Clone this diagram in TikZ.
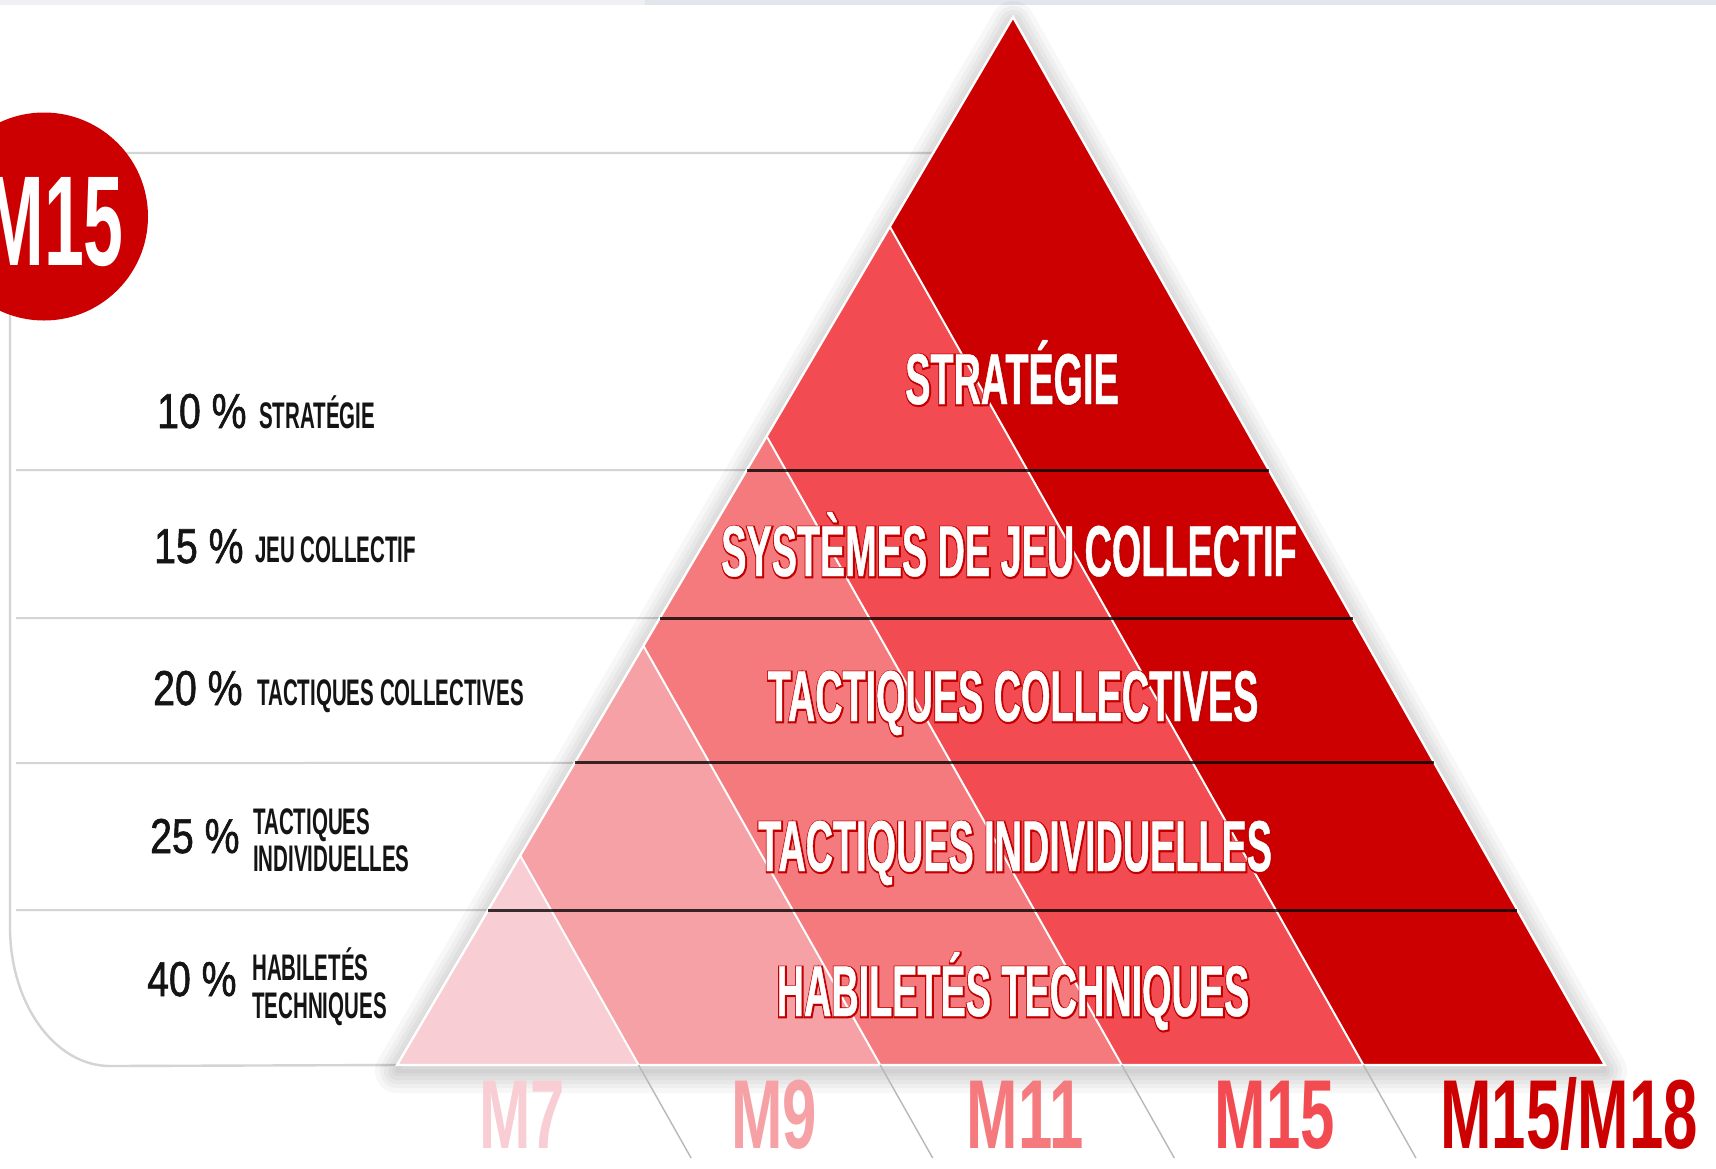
\documentclass[tikz,border=0pt]{standalone}
\usepackage{fontspec}
\usetikzlibrary{calc}
\setmainfont{Liberation Sans}
\newfontfamily\fInner{Liberation Sans}[FakeStretch=0.525, FakeBold=0.6]
\newfontfamily\fInnerOL{Liberation Sans}[FakeStretch=0.525, FakeBold=4.5]
\newfontfamily\fLab{Liberation Sans}[FakeStretch=0.555]
\newfontfamily\fMlab{Liberation Sans}[FakeStretch=0.63]
\newfontfamily\fCirc{Liberation Sans}[FakeStretch=0.56]
\newfontfamily\fPct{Liberation Sans}[FakeStretch=0.8, FakeBold=1.2]
\definecolor{cseven}{HTML}{F8CDD3}
\definecolor{cnine}{HTML}{F5A1A5}
\definecolor{celeven}{HTML}{F47A7E}
\definecolor{cfifteen}{HTML}{F24B51}
\definecolor{ceighteen}{HTML}{CC0000}
\definecolor{olred}{HTML}{C20000}
\definecolor{gridgrey}{HTML}{D4D4D4}
\definecolor{bandA}{HTML}{EEF0F3}
\definecolor{bandB}{HTML}{E2E6EC}
\tikzset{
  gridline/.style={draw=gridgrey, line width=2pt},
  frameline/.style={draw=gridgrey, line width=2.4pt},
  levelline/.style={draw=black, opacity=0.78, line width=3pt},
  sepline/.style={draw=white, line width=2pt},
  extline/.style={draw=black!28, line width=1.4pt},
  pct/.style={inner sep=0pt, anchor=base west, text=black!92,
    font=\fPct\fontsize{49}{49}\selectfont},
  lab/.style={inner sep=0pt, anchor=base west, text=black!92,
    font=\fLab\bfseries\fontsize{37}{37}\selectfont},
  inner/.style={inner sep=0pt, anchor=base, text=white,
    font=\fInner\bfseries\fontsize{72}{72}\selectfont},
  innerol/.style={inner sep=0pt, anchor=base, text=olred,
    font=\fInnerOL\bfseries\fontsize{72}{72}\selectfont},
  mlab/.style={inner sep=0pt, anchor=base,
    font=\fMlab\bfseries\fontsize{98}{98}\selectfont},
}
\begin{document}
\begin{tikzpicture}[x=1pt,y=-1pt]
\useasboundingbox (0,0) rectangle (1716,1168);
\fill[white] (0,0) rectangle (1716,1168);
\fill[bandA] (0,0) rectangle (645,5);
\fill[bandB] (645,0) rectangle (1716,5);

% geometry
\coordinate (A) at (1013,17);
\coordinate (BL) at (397,1065);
\coordinate (BR) at (1605,1065);
\coordinate (P1) at ($(BL)!0.2!(BR)$);
\coordinate (P2) at ($(BL)!0.4!(BR)$);
\coordinate (P3) at ($(BL)!0.6!(BR)$);
\coordinate (P4) at ($(BL)!0.8!(BR)$);
\coordinate (Q1) at ($(BL)!0.2!(A)$);
\coordinate (Q2) at ($(BL)!0.4!(A)$);
\coordinate (Q3) at ($(BL)!0.6!(A)$);
\coordinate (Q4) at ($(BL)!0.8!(A)$);
\coordinate (E1) at ($(P1)+(52.5,93)$);
\coordinate (E2) at ($(P2)+(52.5,93)$);
\coordinate (E3) at ($(P3)+(52.5,93)$);
\coordinate (E4) at ($(P4)+(52.5,93)$);
\coordinate (L1) at ($(BL)!0.5677!(A)$);
\coordinate (R1) at ($(BR)!0.5677!(A)$);
\coordinate (L2) at ($(BL)!0.4265!(A)$);
\coordinate (R2) at ($(BR)!0.4265!(A)$);
\coordinate (L3) at ($(BL)!0.2882!(A)$);
\coordinate (R3) at ($(BR)!0.2882!(A)$);
\coordinate (L4) at ($(BL)!0.1479!(A)$);
\coordinate (R4) at ($(BR)!0.1479!(A)$);
\coordinate (T) at ($(BL)!0.8702!(A)$);
\coordinate (G1) at (16,470);
\coordinate (G2) at (16,618);
\coordinate (G3) at (16,763);
\coordinate (G4) at (16,910);
\coordinate (FTL) at (10,153);
\coordinate (FL) at (10,927);
\coordinate (FB) at (110,1066);

% frame and grid lines
\draw[frameline] (T) -- (FTL) -- (FL) .. controls (10,1004) and (55,1066) .. (FB) -- (BL);
\draw[gridline] (G1) -- (L1);
\draw[gridline] (G2) -- (L2);
\draw[gridline] (G3) -- (L3);
\draw[gridline] (G4) -- (L4);

% shadow
\foreach \w in {44,34,26,18,10,4}
  \draw[line width=\w pt, line join=round, black, opacity=0.032]
    ([yshift=-6pt]A) -- ([yshift=-6pt]BL) -- ([yshift=-6pt]BR) -- cycle;

% stripes
\fill[ceighteen] (A) -- (Q4) -- (P4) -- (BR) -- cycle;
\fill[cfifteen] (Q4) -- (Q3) -- (P3) -- (P4) -- cycle;
\fill[celeven] (Q3) -- (Q2) -- (P2) -- (P3) -- cycle;
\fill[cnine] (Q2) -- (Q1) -- (P1) -- (P2) -- cycle;
\fill[cseven] (Q1) -- (BL) -- (P1) -- cycle;
\draw[sepline] (Q1) -- (P1);
\draw[sepline] (Q2) -- (P2);
\draw[sepline] (Q3) -- (P3);
\draw[sepline] (Q4) -- (P4);
\draw[draw=white, line width=2.4pt, line join=miter] (A) -- (BL) -- (BR) -- cycle;

% level lines
\draw[levelline] (L1) -- (R1);
\draw[levelline] (L2) -- (R2);
\draw[levelline] (L3) -- (R3);
\draw[levelline] (L4) -- (R4);

% extension lines under the base
\draw[extline] (P1) -- (E1);
\draw[extline] (P2) -- (E2);
\draw[extline] (P3) -- (E3);
\draw[extline] (P4) -- (E4);

% inner labels: red outline layer, then white lettering
\node[innerol] (i1o) at (1012.6,404.8) {STRATÉGIE};
\node[innerol] (i2o) at (1009.6,576.8) {SYSTÈMES DE JEU COLLECTIF};
\node[innerol] (i3o) at (1013.6,721.8) {TACTIQUES COLLECTIVES};
\node[innerol] (i4o) at (1015.6,871.8) {TACTIQUES INDIVIDUELLES};
\node[innerol] (i5o) at (1013.6,1016.8) {HABILETÉS TECHNIQUES};
\node[inner] (i1) at (1012,404) {STRATÉGIE};
\node[inner] (i2) at (1009,576) {SYSTÈMES DE JEU COLLECTIF};
\node[inner] (i3) at (1013,721) {TACTIQUES COLLECTIVES};
\node[inner] (i4) at (1015,871) {TACTIQUES INDIVIDUELLES};
\node[inner] (i5) at (1013,1016) {HABILETÉS TECHNIQUES};

% age labels
\node[mlab, text=cseven] (m7) at (522,1148) {M7};
\node[mlab, text=cnine] (m9) at (774,1148) {M9};
\node[mlab, text=celeven] (m11) at (1025,1148) {M11};
\node[mlab, text=cfifteen] (m15) at (1275,1148) {M15};
\node[mlab, text=ceighteen] (m18) at (1569,1148) {M15/M18};

% left labels
\node[pct] (p10) at (157,428) {10 \%};
\node[lab] (l10) at (259,428) {STRATÉGIE};
\node[pct] (p15) at (154,563) {15 \%};
\node[lab] (l15) at (255,562) {JEU COLLECTIF};
\node[pct] (p20) at (153,705) {20 \%};
\node[lab] (l20) at (257,705) {TACTIQUES COLLECTIVES};
\node[pct] (p25) at (150,853) {25 \%};
\node[lab] (l25a) at (253,834) {TACTIQUES};
\node[lab] (l25b) at (253,871) {INDIVIDUELLES};
\node[pct] (p40) at (147,996) {40 \%};
\node[lab] (l40a) at (252,980) {HABILETÉS};
\node[lab] (l40b) at (252,1018) {TECHNIQUES};

% badge
\node[circle, fill=ceighteen, minimum size=208pt, inner sep=0pt] (badge) at (44,216.5) {};
\node[inner sep=0pt, anchor=base east, text=white,
  font=\fCirc\bfseries\fontsize{128}{128}\selectfont] (badgetxt) at (124,265) {M15};
\end{tikzpicture}
\end{document}
